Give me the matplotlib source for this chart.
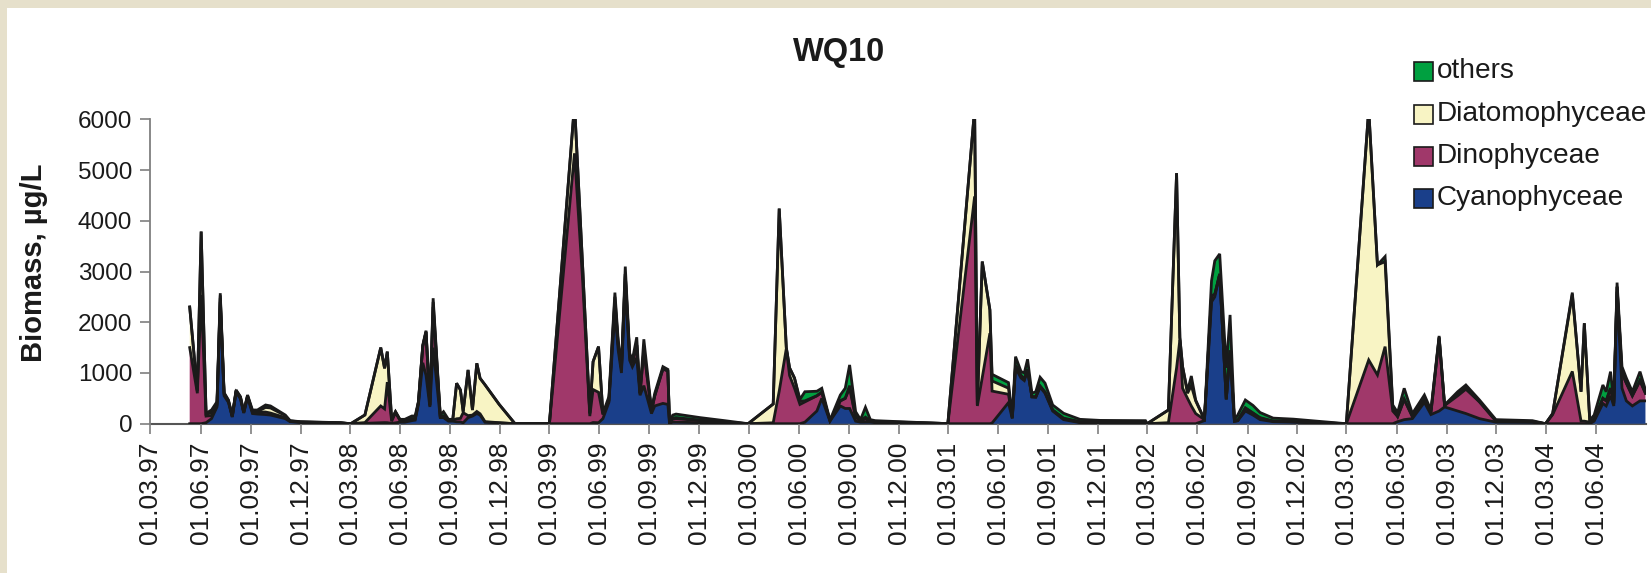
import matplotlib
matplotlib.use('Agg')
import matplotlib.pyplot as plt
import matplotlib.dates as mdates
import numpy as np
import pandas as pd
from matplotlib.patches import Rectangle

plt.rcParams['font.family'] = ['Liberation Sans', 'DejaVu Sans']

# ---------------- data ----------------
dates = [
    # 1997
    '1997-05-12', '1997-05-26', '1997-06-02', '1997-06-11', '1997-06-21', '1997-07-01',
    '1997-07-07', '1997-07-14', '1997-07-22', '1997-07-29', '1997-08-05', '1997-08-13',
    '1997-08-19', '1997-08-26', '1997-09-04', '1997-09-13', '1997-09-28', '1997-10-07',
    '1997-11-03', '1997-11-12', '1997-12-01', '1998-01-07', '1998-02-12',
    # 1998
    '1998-03-03', '1998-03-29', '1998-04-27', '1998-05-04', '1998-05-09', '1998-05-17',
    '1998-05-24', '1998-06-01', '1998-06-10', '1998-06-23', '1998-06-29', '1998-07-05',
    '1998-07-13', '1998-07-19', '1998-07-26', '1998-08-01', '1998-08-14', '1998-08-20',
    '1998-08-29', '1998-09-06', '1998-09-13', '1998-09-20', '1998-09-25', '1998-10-04',
    '1998-10-12', '1998-10-20', '1998-10-26', '1998-11-04', '1998-11-30', '1998-12-29',
    # 1999
    '1999-03-02', '1999-04-17', '1999-05-02', '1999-05-15', '1999-05-21', '1999-05-31',
    '1999-06-08', '1999-06-19', '1999-06-30', '1999-07-06', '1999-07-12', '1999-07-19',
    '1999-07-27', '1999-08-01', '1999-08-09', '1999-08-15', '1999-08-22', '1999-09-05',
    '1999-09-11', '1999-09-26', '1999-10-05', '1999-10-08', '1999-10-14', '1999-10-20',
    '1999-12-03', '2000-01-17', '2000-02-29',
    # 2000
    '2000-04-15', '2000-04-26', '2000-05-09', '2000-05-15', '2000-05-24', '2000-06-03',
    '2000-06-12', '2000-07-04', '2000-07-13', '2000-07-28', '2000-08-16', '2000-08-25',
    '2000-09-02', '2000-09-13', '2000-09-22', '2000-10-01', '2000-10-10', '2000-10-19',
    '2000-12-04', '2001-02-15', '2001-03-01',
    # 2001
    '2001-04-19', '2001-04-24', '2001-05-03', '2001-05-17', '2001-05-21', '2001-06-20',
    '2001-06-27', '2001-07-03', '2001-07-13', '2001-07-19', '2001-07-25', '2001-08-02',
    '2001-08-09', '2001-08-17', '2001-08-26', '2001-09-09', '2001-09-29', '2001-10-29',
    '2001-12-05', '2002-02-26', '2002-03-01',
    # 2002
    '2002-04-09', '2002-04-24', '2002-04-30', '2002-05-05', '2002-05-14', '2002-05-21',
    '2002-05-29', '2002-06-14', '2002-06-27', '2002-07-03', '2002-07-12', '2002-07-24',
    '2002-07-31', '2002-08-08', '2002-08-14', '2002-08-28', '2002-09-11', '2002-09-24',
    '2002-10-18', '2002-11-24', '2003-03-01',
    # 2003
    '2003-04-11', '2003-04-27', '2003-05-11', '2003-05-25', '2003-06-03', '2003-06-15',
    '2003-06-30', '2003-07-22', '2003-08-03', '2003-08-18', '2003-08-28', '2003-09-06',
    '2003-09-21', '2003-10-06', '2003-10-31', '2003-11-30', '2004-02-05', '2004-02-29',
    # 2004
    '2004-03-13', '2004-04-18', '2004-05-04', '2004-05-10', '2004-05-20', '2004-05-28',
    '2004-06-13', '2004-06-19', '2004-06-27', '2004-07-03', '2004-07-09', '2004-07-18',
    '2004-07-26', '2004-08-06', '2004-08-20', '2004-08-30',
]

cyanophyceae = [
    0, 0, 0, 20, 100, 330, 2400, 550, 420, 130, 620, 490, 210, 520, 200, 190, 180, 170,
    100, 40, 25, 20, 12,
    0, 7, 20, 22, 20, 6, 17, 30, 30, 60, 70, 380, 1200, 950, 330, 1500, 120, 120,
    50, 50, 37, 35, 17, 120, 150, 200, 170, 30, 15, 0,
    0, 0, 0, 0, 23, 19, 100, 420, 2200, 1450, 1000, 2700, 1250, 1120, 1300, 560, 750,
    200, 350, 400, 380, 10, 30, 30, 20, 10, 0,
    0, 0, 0, 0, 0, 0, 30, 250, 500, 50, 350, 300, 300, 50, 30, 30, 30, 20, 15, 5, 0,
    0, 0, 0, 0, 13, 415, 100, 1100, 900, 850, 1050, 530, 520, 720, 600, 250, 80, 20,
    20, 20, 0,
    0, 0, 0, 0, 0, 0, 0, 60, 2400, 2500, 2950, 480, 1400, 50, 60, 250, 170, 80, 40, 30, 0,
    0, 0, 0, 0, 40, 80, 100, 420, 180, 250, 330, 300, 250, 200, 100, 30, 25, 0,
    0, 0, 0, 0, 0, 50, 400, 350, 550, 350, 2600, 700, 450, 350, 450, 450,
]

dinophyceae = [
    1500, 600, 2540, 130, 60, 30, 80, 30, 20, 10, 20, 20, 10, 20, 30, 40, 50, 40,
    20, 5, 5, 4, 3,
    0, 15, 330, 270, 800, 40, 200, 40, 30, 30, 20, 40, 330, 860, 30, 800, 30, 30,
    20, 20, 60, 70, 200, 39, 20, 41, 25, 10, 5, 0,
    0, 5330, 2800, 150, 650, 600, 80, 33, 200, 120, 80, 250, 80, 80, 250, 40, 700,
    50, 200, 680, 660, 10, 60, 70, 40, 20, 0,
    18, 640, 1480, 950, 700, 380, 400, 300, 120, 10, 100, 200, 400, 80, 30, 60, 20, 15, 10, 2, 0,
    4480, 350, 915, 1783, 630, 165, 20, 50, 50, 30, 20, 0, 10, 20, 20, 19, 20, 10,
    10, 10, 0,
    20, 1100, 1650, 700, 500, 350, 200, 20, 120, 50, 0, 0, 44, 0, 0, 60, 40, 30, 10, 10, 0,
    1256, 960, 1519, 250, 100, 400, 40, 60, 40, 1450, 30, 130, 300, 480, 330, 20, 15, 0,
    180, 1030, 50, 50, 30, 30, 100, 100, 150, 50, 100, 300, 350, 200, 400, 150,
]

diatomophyceae = [
    800, 51, 1247, 40, 50, 30, 50, 20, 15, 5, 15, 13, 10, 16, 10, 10, 90, 100,
    40, 10, 5, 3, 3,
    0, 150, 1150, 800, 600, 40, 20, 16, 16, 12, 12, 0, 0, 0, 0, 100, 0, 0,
    6, 10, 700, 560, 20, 900, 100, 950, 700, 727, 360, 0,
    0, 970, 270, 55, 550, 900, 25, 0, 100, 0, 0, 0, 0, 0, 0, 0, 0,
    0, 0, 0, 0, 0, 20, 20, 10, 5, 0,
    370, 3600, 20, 150, 200, 60, 20, 0, 0, 0, 0, 0, 50, 0, 0, 40, 0, 5, 5, 1, 0,
    1720, 19, 2281, 460, 200, 120, 0, 0, 0, 0, 0, 0, 0, 0, 0, 0, 10, 10,
    5, 5, 0,
    250, 3838, 50, 424, 100, 400, 250, 0, 0, 0, 0, 0, 0, 0, 0, 0, 0, 10, 0, 0, 0,
    4944, 2170, 1675, 80, 0, 0, 0, 0, 0, 0, 0, 20, 40, 30, 0, 10, 5, 0,
    20, 1520, 580, 1930, 20, 0, 0, 0, 0, 0, 0, 0, 0, 0, 0, 0,
]

others = [
    0, 0, 0, 15, 61, 44, 42, 12, 12, 7, 10, 10, 7, 10, 30, 30, 49, 40,
    12, 5, 5, 3, 2,
    0, 0, 0, 0, 0, 0, 0, 0, 10, 50, 50, 14, 22, 24, 9, 73, 22, 87,
    10, 6, 0, 0, 0, 0, 0, 0, 0, 0, 0, 0,
    0, 0, 0, 0, 0, 0, 0, 80, 84, 81, 44, 147, 58, 60, 154, 0, 214,
    20, 50, 44, 30, 10, 60, 70, 50, 25, 0,
    0, 0, 0, 0, 0, 40, 180, 90, 78, 10, 116, 200, 408, 107, 20, 193, 30, 20, 10, 2, 0,
    0, 0, 0, 0, 130, 110, 20, 172, 80, 120, 200, 70, 100, 175, 180, 100, 95, 46,
    30, 25, 0,
    0, 0, 0, 0, 40, 190, 17, 0, 296, 661, 397, 620, 700, 30, 110, 157, 150, 100, 60, 50, 0,
    0, 0, 100, 39, 80, 218, 60, 86, 50, 30, 9, 17, 40, 53, 37, 20, 15, 0,
    0, 34, 0, 0, 20, 90, 263, 180, 326, 40, 81, 124, 100, 80, 176, 65,
]

series_names = ['Cyanophyceae', 'Dinophyceae', 'Diatomophyceae', 'others']
series_colors = ['#1A3F8A', '#A0386A', '#F8F4C4', '#00A040']
legend_order = ['others', 'Diatomophyceae', 'Dinophyceae', 'Cyanophyceae']

x_start, x_end = '1997-03-01', '2004-08-31'
y_max, y_step = 6000, 1000

# ---------------- figure ----------------
W, H = 1651, 573
fig = plt.figure(figsize=(W / 100, H / 100), dpi=100)
fig.patch.set_facecolor('#E6E0CB')
fig.patches.append(Rectangle((7 / W, 0), 1, 1 - 8 / H, transform=fig.transFigure,
                             facecolor='white', edgecolor='none', zorder=-10))

ax = fig.add_axes([150.4 / W, (H - 423.7) / H, (1646 - 150.4) / W, (423.7 - 119.3) / H])
ax.set_zorder(2)
ax.set_facecolor('none')

x = pd.to_datetime(dates)
stack = np.vstack([cyanophyceae, dinophyceae, diatomophyceae, others]).astype(float)
cum = np.cumsum(stack, axis=0)
lower = np.zeros(len(x))
for i, (name, col) in enumerate(zip(series_names, series_colors)):
    ax.fill_between(x, lower, cum[i], facecolor=col, edgecolor='none', lw=0, zorder=2)
    lower = cum[i]
for i in range(len(series_names)):
    ax.plot(x, cum[i], color='#1a1a1a', lw=2.0, zorder=3, solid_joinstyle='miter')

ax.set_xlim(pd.Timestamp(x_start), pd.Timestamp(x_end))
ax.set_ylim(0, y_max)
ax.set_yticks(np.arange(0, y_max + 1, y_step))
ax.xaxis.set_major_locator(mdates.MonthLocator(bymonth=[3, 6, 9, 12], bymonthday=1))
ax.xaxis.set_major_formatter(mdates.DateFormatter('%d.%m.%y'))

for side in ['top', 'right']:
    ax.spines[side].set_visible(False)
ax.spines['left'].set_color('#7f7f7f')
ax.spines['left'].set_linewidth(1.3)
ax.spines['bottom'].set_color('#555555')
ax.spines['bottom'].set_linewidth(1.5)
ax.spines['bottom'].set_zorder(1)

ax.tick_params(axis='y', direction='out', length=7, width=1.2, color='#7f7f7f',
               labelsize=17.5, labelcolor='#1a1a1a', pad=6)
ax.tick_params(axis='x', direction='out', length=7, width=1.2, color='#7f7f7f',
               labelsize=19, labelcolor='#1a1a1a', pad=6, labelrotation=90)

# title and axis label
fig.text(839 / W, 1 - 53 / H, 'WQ10', ha='center', va='center',
         fontsize=23.5, fontweight='bold', color='#1a1a1a')
fig.text(34 / W, 1 - 263 / H, 'Biomass, µg/L', ha='center', va='center', rotation=90,
         fontsize=21, fontweight='bold', color='#1a1a1a')

# legend
color_of = dict(zip(series_names, series_colors))
row_y = [71, 114, 156, 198]
for name, yy in zip(legend_order, row_y):
    fig.patches.append(Rectangle((1414 / W, 1 - (yy + 10) / H), 19 / W, 19 / H,
                                 transform=fig.transFigure, facecolor=color_of[name],
                                 edgecolor='#1a1a1a', lw=1.2, zorder=5))
    fig.text(1437 / W, 1 - yy / H, name, ha='left', va='center',
             fontsize=20.2, color='#1a1a1a')

fig.savefig('out.png', dpi=100)
